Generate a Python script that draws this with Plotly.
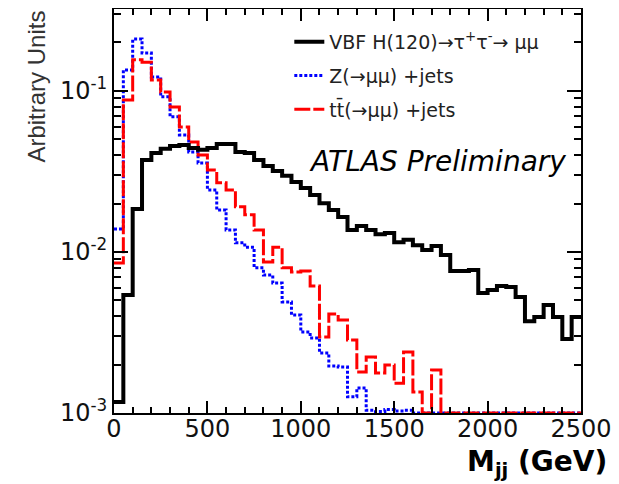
import numpy as np
import plotly.graph_objects as go

# ---- data (50 GeV bins, 0-2500 GeV) ----
BIN_EDGES = list(range(0, 2550, 50))

vbf_h120 = [0.00117, 0.00541, 0.0185, 0.0372, 0.0412, 0.0437, 0.0455, 0.0462, 0.0443, 0.0431,
            0.0443, 0.0469, 0.0469, 0.0418, 0.0412, 0.0372, 0.0342, 0.0318, 0.0297, 0.0272,
            0.0250, 0.0226, 0.0201, 0.0182, 0.0165, 0.0137, 0.0145, 0.0137, 0.0129, 0.0131,
            0.0115, 0.0119, 0.0110, 0.0103, 0.0109, 0.00957, 0.00762, 0.00762, 0.00772, 0.00556,
            0.00581, 0.00615, 0.00607, 0.00525, 0.00372, 0.00394, 0.00469, 0.00394, 0.00288, 0.00394]

z_jets = [0.0139, 0.135, 0.210, 0.172, 0.122, 0.0919, 0.0691, 0.0533, 0.0418, 0.0357,
          0.0243, 0.0182, 0.0137, 0.0114, 0.0107, 0.00797, 0.00719, 0.00641, 0.00489, 0.00406,
          0.00319, 0.00292, 0.00236, 0.00196, 0.00193, 0.00126, 0.00143, 0.00104, 0.00102, 0.00105,
          0.00103, 0.00104, 0, 0, 0, 0, 0, 0, 0, 0,
          0, 0, 0, 0, 0, 0, 0, 0, 0, 0]

ttbar_jets = [0.00855, 0.0879, 0.156, 0.151, 0.117, 0.0986, 0.0796, 0.0597, 0.0482, 0.0400,
              0.0323, 0.0269, 0.0243, 0.0191, 0.0170, 0.0137, 0.00867, 0.0107, 0.00797, 0.00752,
              0.00763, 0.00615, 0.00296, 0.00412, 0.00378, 0.00284, 0.00180, 0.00223, 0.00177, 0.00199,
              0.00153, 0.00239, 0.00135, 0, 0.00185, 0, 0, 0, 0, 0,
              0, 0, 0, 0, 0, 0, 0, 0, 0, 0]

X_TICKS = [0, 500, 1000, 1500, 2000, 2500]
Y_TICKS = [1e-3, 1e-2, 1e-1]
Y_TICK_TEXT = ["10<sup>-3</sup>", "10<sup>-2</sup>", "10<sup>-1</sup>"]

YMIN = 1e-3
YMAX_LOG = -0.491

# page has an 8px body margin: the figure starts at (8, 8) in the window
OFF = 8
PL, PR, PT, PB = 113.5, 581.0, 9.0, 413.0   # plot-area edges in window pixels
W, H = 619 - OFF, 484 - OFF
PW, PH = PR - PL, PB - PT


def px_x(x):
    return (x - PL) / PW


def px_y(y):
    return (PB - y) / PH


def step_y(vals):
    v = np.maximum(np.array(vals, dtype=float), YMIN)  # empty bins drawn at the axis floor (as ROOT does)
    return list(v) + [v[-1]]


fig = go.Figure()
fig.add_trace(go.Scatter(x=BIN_EDGES, y=step_y(z_jets), mode="lines", line_shape="hv",
                         line=dict(color="#0000ff", width=3, dash="3px,2px"),
                         name="Z(→μμ) +jets", legendrank=2, legendgroup="b"))
fig.add_trace(go.Scatter(x=BIN_EDGES, y=step_y(ttbar_jets), mode="lines", line_shape="hv",
                         line=dict(color="#ff0000", width=3, dash="16px,3px"),
                         name="tt\u0304(→μμ) +jets", legendrank=3, legendgroup="c"))
fig.add_trace(go.Scatter(x=BIN_EDGES, y=step_y(vbf_h120), mode="lines", line_shape="hv",
                         line=dict(color="#000000", width=4),
                         name="VBF H(120)→τ<sup>+</sup>τ<sup>-</sup>→ μμ", legendrank=1, legendgroup="a"))

minor_y = [k * 10.0 ** n for n in (-3, -2, -1) for k in range(2, 10)]

fig.update_layout(
    width=W, height=H,
    margin=dict(l=PL - OFF, r=619 - PR, t=PT - OFF, b=484 - PB, autoexpand=False),
    paper_bgcolor="white", plot_bgcolor="white",
    font=dict(family="DejaVu Sans", color="#000000"),
    showlegend=True,
    legend=dict(x=px_x(289), y=px_y(23), xanchor="left", yanchor="top",
                bgcolor="rgba(0,0,0,0)", borderwidth=0,
                font=dict(family="DejaVu Sans", size=19, color="#222222"),
                tracegroupgap=6, itemwidth=30),
    xaxis=dict(range=[0, 2500], tickvals=X_TICKS, ticks="inside", ticklen=12, tickwidth=1.5,
               tickcolor="black", showline=True, linecolor="black", linewidth=2, mirror="allticks",
               showgrid=False, zeroline=False, ticklabelstandoff=-7,
               tickfont=dict(family="DejaVu Sans", size=24, color="#111111"),
               minor=dict(dtick=100, ticks="inside", ticklen=6, tickcolor="black", tickwidth=1.5, showgrid=False)),
    yaxis=dict(type="log", range=[-3, YMAX_LOG], tickvals=Y_TICKS, ticktext=Y_TICK_TEXT,
               ticks="inside", ticklen=14, tickwidth=1.5, tickcolor="black",
               showline=True, linecolor="black", linewidth=2, mirror="allticks",
               showgrid=False, zeroline=False,
               tickfont=dict(family="DejaVu Sans", size=24, color="#111111"),
               minor=dict(tickvals=minor_y, ticks="inside", ticklen=7, tickcolor="black", tickwidth=1.5, showgrid=False)),
)

fig.add_annotation(text="Arbitrary Units", xref="paper", yref="paper",
                   x=px_x(36), y=px_y(87), textangle=-90,
                   showarrow=False, xanchor="center", yanchor="middle",
                   font=dict(family="Liberation Sans", size=24, color="#333333"))
fig.add_annotation(text="<b>M<sub>jj</sub> (GeV)</b>", xref="paper", yref="paper",
                   x=px_x(609), y=px_y(464),
                   showarrow=False, xanchor="right", yanchor="middle",
                   font=dict(family="DejaVu Sans", size=28, color="#000000"))
fig.add_annotation(text="<i>ATLAS Preliminary</i>", xref="paper", yref="paper",
                   x=px_x(307), y=px_y(161),
                   showarrow=False, xanchor="left", yanchor="middle",
                   font=dict(family="DejaVu Sans", size=28, color="#000000"))

fig.write_html("out.html")
